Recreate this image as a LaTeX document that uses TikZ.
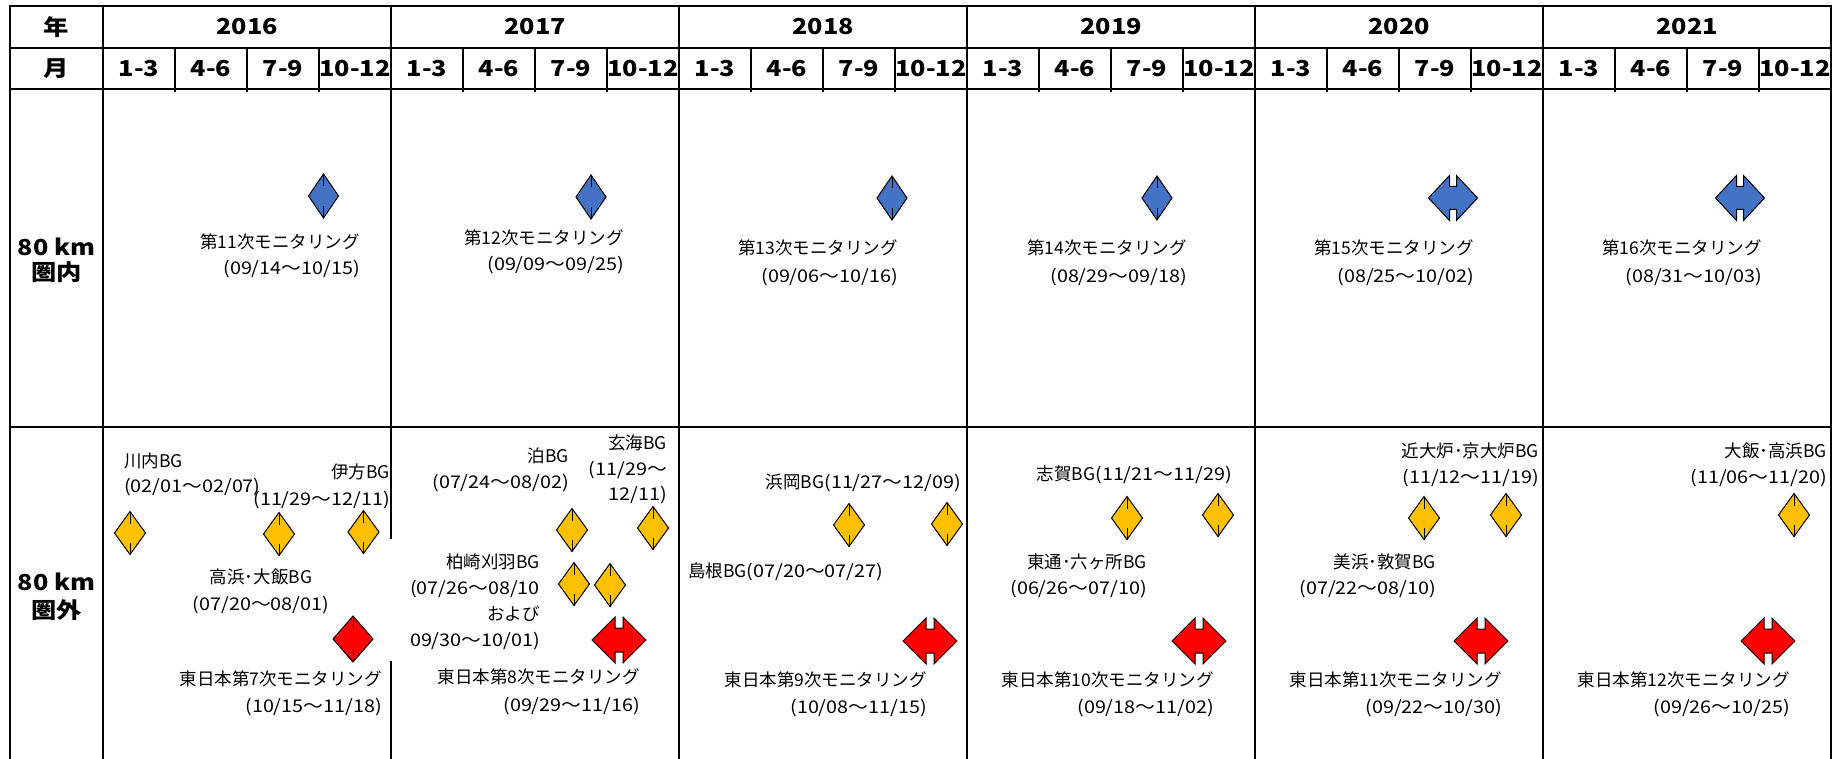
\documentclass[tikz,border=0pt]{standalone}
\usepackage{fontspec}
\setmainfont{Noto Sans CJK JP}
\newfontfamily\hdrfont{Noto Sans CJK JP}[FakeStretch=1.15]
\newfontfamily\datefont{Noto Sans CJK JP}[FakeStretch=1.13]
\definecolor{tlgold}{HTML}{FFC000}
\definecolor{tlblue}{HTML}{4472C4}
\definecolor{tlred}{HTML}{FF0000}
% #1 colour, #2 cx, #3 cy, #4 half width, #5 half height
\newcommand\tlDiamond[5]{%
  \path[mk,fill=#1] (#2-#4,#3) -- (#2,#3-#5) -- (#2+#4,#3) -- (#2,#3+#5) -- cycle;
  \draw[mk] (#2,#3-#5) -- (#2,#3-#5+12) (#2,#3+#5) -- (#2,#3+#5-12);}
% #1 colour, #2 cx, #3 cy, #4 half width, #5 half height, #6 half shaft
\newcommand\tlArrow[6]{%
  \path[mk,fill=#1] (#2-#4,#3) -- (#2-#6,#3-#5) -- (#2-#6,#3-#5+11) -- (#2+#6,#3-#5+11)
    -- (#2+#6,#3-#5) -- (#2+#4,#3) -- (#2+#6,#3+#5) -- (#2+#6,#3+#5-11)
    -- (#2-#6,#3+#5-11) -- (#2-#6,#3+#5) -- cycle;}
\newcommand\dt[1]{{\datefont #1}}
\begin{document}
\begin{tikzpicture}[x=1pt,y=-1pt,
  frame/.style={line width=2pt},
  qline/.style={line width=1.4pt},
  hdr/.style={font=\hdrfont\bfseries\fontsize{22}{26}\selectfont, inner sep=0pt},
  lbl/.style={font=\fontsize{17.5}{26}\selectfont, inner sep=0pt},
  mk/.style={draw=black, line width=1pt}]
\useasboundingbox (0,0) rectangle (1848,759);
\fill[white] (0,0) rectangle (1848,759);
% frame
\draw[frame] (10,6) -- (1831,6);
\draw[frame] (10,48) -- (1831,48);
\draw[frame] (10,89) -- (1831,89);
\draw[frame] (10,427) -- (1831,427);
\draw[frame] (10,5) -- (10,759);
\draw[frame] (103,5) -- (103,759);
\draw[frame] (1831,5) -- (1831,759);
\draw[frame] (391,5) -- (391,539);
\draw[frame] (391,661) -- (391,759);
\foreach \x in {679,967,1255,1543} \draw[frame] (\x,5) -- (\x,759);
\foreach \i in {0,...,5} \foreach \q in {1,2,3}
  \draw[qline] ({103+288*\i+72*\q},48) -- ({103+288*\i+72*\q},92);
% header
\node[hdr] (nen) at (56.5,27) {年};
\node[hdr] (tsuki) at (56.5,68.5) {月};
\foreach \yr [count=\i from 0] in {2016,2017,2018,2019,2020,2021}
  \node[hdr] (yr\yr) at ({247+288*\i},27) {\yr};
\foreach \i in {0,...,5} \foreach \q/\ql in {0/1-3,1/4-6,2/7-9,3/10-12}
  \node[hdr] (q\i\q) at ({139+288*\i+72*\q},68.5) {\ql};
\node[hdr] (inA) at (56.5,247) {80 km};
\node[hdr] (inB) at (56.5,272) {圏内};
\node[hdr] (outA) at (56.5,582) {80 km};
\node[hdr] (outB) at (56.5,610) {圏外};
% within 80 km
\tlDiamond{tlblue}{323.5}{196}{15}{22}
\tlDiamond{tlblue}{591}{197}{15}{22}
\tlDiamond{tlblue}{892}{198}{15}{22}
\tlDiamond{tlblue}{1157}{198}{15}{22}
\tlArrow{tlblue}{1453}{198}{24.5}{22.5}{3.5}
\tlArrow{tlblue}{1740}{198}{24.5}{22.5}{3.5}
\node[lbl, anchor=east, align=right] (m11) at (360,256) {第11次モニタリング\\\dt{(09/14～10/15)}};
\node[lbl, anchor=east, align=right] (m12) at (624,252) {第12次モニタリング\\\dt{(09/09～09/25)}};
\node[lbl, anchor=east, align=right] (m13) at (898,263) {第13次モニタリング\\[2pt]\dt{(09/06～10/16)}};
\node[lbl, anchor=east, align=right] (m14) at (1187,263) {第14次モニタリング\\[2pt]\dt{(08/29～09/18)}};
\node[lbl, anchor=east, align=right] (m15) at (1474,263) {第15次モニタリング\\[2pt]\dt{(08/25～10/02)}};
\node[lbl, anchor=east, align=right] (m16) at (1762,263) {第16次モニタリング\\[2pt]\dt{(08/31～10/03)}};
% outside 80 km : shapes
\tlDiamond{tlgold}{130}{533}{15.5}{21.5}
\tlDiamond{tlgold}{279}{534}{15.5}{21.5}
\tlDiamond{tlgold}{363.5}{532}{15.5}{21.5}
\tlDiamond{tlgold}{572}{530}{15.5}{21.5}
\tlDiamond{tlgold}{653}{528}{15.5}{21.5}
\tlDiamond{tlgold}{574}{584}{15.5}{21.5}
\tlDiamond{tlgold}{610}{585}{15.5}{21.5}
\tlDiamond{tlgold}{849}{525}{15.5}{21.5}
\tlDiamond{tlgold}{947}{524}{15.5}{21.5}
\tlDiamond{tlgold}{1127}{518}{15.5}{21.5}
\tlDiamond{tlgold}{1218}{515}{15.5}{21.5}
\tlDiamond{tlgold}{1424}{518}{15.5}{21.5}
\tlDiamond{tlgold}{1506}{515}{15.5}{21.5}
\tlDiamond{tlgold}{1794}{515}{15.5}{21.5}
\tlDiamond{tlred}{353}{639}{20}{23}
\tlArrow{tlred}{619}{640}{27}{23}{4}
\tlArrow{tlred}{930}{641}{27}{23}{4}
\tlArrow{tlred}{1199}{641}{27}{23}{4}
\tlArrow{tlred}{1481}{641}{27}{23}{4}
\tlArrow{tlred}{1768}{641}{27}{23}{4}
% outside 80 km : texts
\node[lbl, anchor=west, align=left] (sendai) at (124,474.5) {川内BG\\[-1pt]\dt{(02/01～02/07)}};
\node[lbl, anchor=east, align=right] (ikata) at (390,486.5) {伊方BG\\[1pt]\dt{(11/29～12/11)}};
\node[lbl, align=center] (takahama) at (261,591.5) {高浜･大飯BG\\[1pt]\dt{(07/20～08/01)}};
\node[lbl, anchor=east, align=right] (east7) at (382,693.5) {東日本第7次モニタリング\\[1pt]\dt{(10/15～11/18)}};
\node[lbl, anchor=east, align=right] (tomari) at (569,470) {泊BG\\\dt{(07/24～08/02)}};
\node[lbl, anchor=east, align=right] (genkai) at (667,469.5) {玄海BG\\[-0.5pt]\dt{(11/29～}\\[-0.5pt]\dt{12/11)}};
\node[lbl, anchor=east, align=right] (kashiwa) at (540,601.5) {柏崎刈羽BG\\\dt{(07/26～08/10}\\および\\\dt{09/30～10/01)}};
\node[lbl, anchor=east, align=right] (east8) at (640,692) {東日本第8次モニタリング\\[2pt]\dt{(09/29～11/16)}};
\node[lbl, anchor=east] (hamaoka) at (961,483) {浜岡BG\dt{(11/27～12/09)}};
\node[lbl, anchor=west] (shimane) at (688,572) {島根BG\dt{(07/20～07/27)}};
\node[lbl, anchor=east, align=right] (east9) at (927,694) {東日本第9次モニタリング\\[1pt]\dt{(10/08～11/15)}};
\node[lbl, anchor=east] (shika) at (1232,475) {志賀BG\dt{(11/21～11/29)}};
\node[lbl, anchor=east, align=right] (higashi) at (1147,576) {東通･六ヶ所BG\\\dt{(06/26～07/10)}};
\node[lbl, anchor=east, align=right] (east10) at (1214,694) {東日本第10次モニタリング\\[1pt]\dt{(09/18～11/02)}};
\node[lbl, anchor=east, align=right] (kindai) at (1539,465) {近大炉･京大炉BG\\\dt{(11/12～11/19)}};
\node[lbl, anchor=east, align=right] (mihama) at (1436,576) {美浜･敦賀BG\\\dt{(07/22～08/10)}};
\node[lbl, anchor=east, align=right] (east11) at (1502,694) {東日本第11次モニタリング\\[1pt]\dt{(09/22～10/30)}};
\node[lbl, anchor=east, align=right] (ohi) at (1827,465) {大飯･高浜BG\\\dt{(11/06～11/20)}};
\node[lbl, anchor=east, align=right] (east12) at (1790,694) {東日本第12次モニタリング\\[1pt]\dt{(09/26～10/25)}};
\end{tikzpicture}
\end{document}
